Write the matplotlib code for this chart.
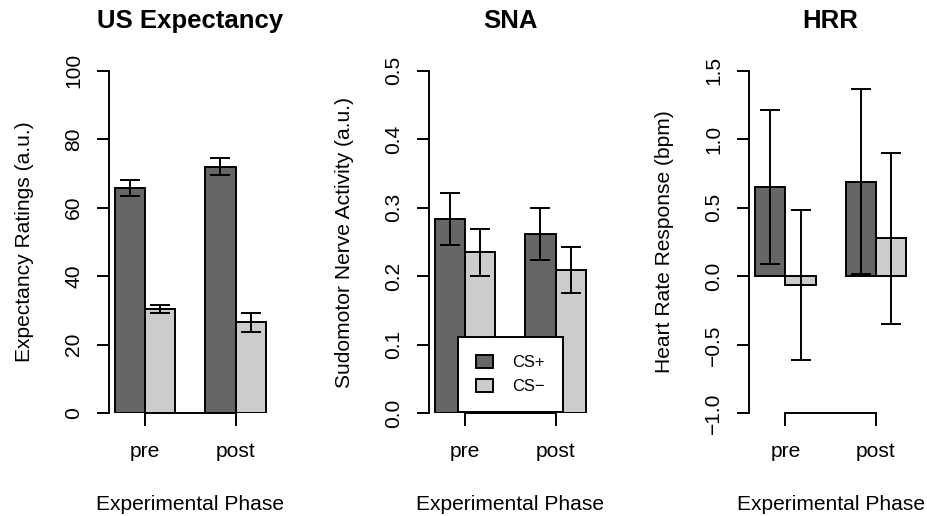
import matplotlib
import matplotlib.pyplot as plt
import numpy as np

matplotlib.use("Agg")

## Data
phases = ["pre", "post"]
conditions = ["CS+", "CS\u2212"]

expectancy_csplus = [65.8, 72.0]
expectancy_csminus = [30.5, 26.6]
expectancy_csplus_err = [2.3, 2.45]
expectancy_csminus_err = [1.15, 2.8]

sna_csplus = [0.284, 0.262]
sna_csminus = [0.235, 0.209]
sna_csplus_err = [0.038, 0.038]
sna_csminus_err = [0.034, 0.033]

hrr_csplus = [0.651, 0.690]
hrr_csminus = [-0.066, 0.277]
hrr_csplus_err = [0.56, 0.675]
hrr_csminus_err = [0.547, 0.625]

titles = ["US Expectancy", "SNA", "HRR"]
ylabels = ["Expectancy Ratings (a.u.)", "Sudomotor Nerve Activity (a.u.)", "Heart Rate Response (bpm)"]
yticks = [[0, 20, 40, 60, 80, 100], [0.0, 0.1, 0.2, 0.3, 0.4, 0.5], [-1.0, -0.5, 0.0, 0.5, 1.0, 1.5]]
xlabel = "Experimental Phase"

## Style
plt.rcParams["font.family"] = ["Liberation Sans", "DejaVu Sans"]
DARK = "#666666"
LIGHT = "#CCCCCC"
LW = 1.4
FS = 15.1

panels = [
    (expectancy_csplus, expectancy_csminus, expectancy_csplus_err, expectancy_csminus_err),
    (sna_csplus, sna_csminus, sna_csplus_err, sna_csminus_err),
    (hrr_csplus, hrr_csminus, hrr_csplus_err, hrr_csminus_err),
]

W, H = 927, 516
lefts_px = [109, 429, 749.3]
top_px, bottom_px = 70.7, 413.3
width_px = 162.7
height_px = bottom_px - top_px

fig = plt.figure(figsize=(W / 100, H / 100), dpi=100)

centers = np.array([2.0, 5.0])

for i, (cp, cm, cp_err, cm_err) in enumerate(panels):
    ax = fig.add_axes([lefts_px[i] / W, (H - bottom_px) / H, width_px / W, height_px / H])
    b1 = ax.bar(centers - 0.5, cp, width=1.0, color=DARK, edgecolor="black", linewidth=LW, label=conditions[0], zorder=2)
    b2 = ax.bar(centers + 0.5, cm, width=1.0, color=LIGHT, edgecolor="black", linewidth=LW, label=conditions[1], zorder=2)
    ax.errorbar(centers - 0.5, cp, yerr=cp_err, fmt="none", ecolor="black", elinewidth=LW, capsize=7.5, capthick=LW, zorder=3)
    ax.errorbar(centers + 0.5, cm, yerr=cm_err, fmt="none", ecolor="black", elinewidth=LW, capsize=7.5, capthick=LW, zorder=3)

    ax.set_xlim(0.8, 6.2)
    ax.set_ylim(yticks[i][0], yticks[i][-1])

    for s in ["top", "right"]:
        ax.spines[s].set_visible(False)
    for s in ["left", "bottom"]:
        ax.spines[s].set_linewidth(LW)
    ax.spines["left"].set_bounds(yticks[i][0], yticks[i][-1])
    ax.spines["bottom"].set_bounds(centers[0], centers[-1])

    ax.set_yticks(yticks[i])
    ax.set_xticks(centers, phases)
    ax.tick_params(axis="both", direction="out", length=9, width=LW, labelsize=FS)
    ax.tick_params(axis="x", pad=12)
    ax.tick_params(axis="y", pad=9.7, labelrotation=90)
    plt.setp(ax.get_yticklabels(), va="center")

    ax.set_title(titles[i], fontsize=18.5, fontweight="bold", pad=30.7)
    ax.set_ylabel(ylabels[i], fontsize=FS, va="baseline")
    ax.yaxis.set_label_coords(-79 / width_px, 0.5)
    ax.set_xlabel(xlabel, fontsize=FS, va="baseline")
    ax.xaxis.set_label_coords(0.5, (bottom_px - 510) / height_px)

    if i == 1:
        leg = ax.legend(handles=[b1, b2], loc="lower left",
                        bbox_to_anchor=((458.3 - lefts_px[i]) / width_px, (bottom_px - 412.3) / height_px),
                        borderaxespad=0, fontsize=11.9, handlelength=1.0, handleheight=0.8,
                        handletextpad=1.15, labelspacing=0.55, borderpad=1.1,
                        fancybox=False, framealpha=1, edgecolor="black")
        leg.get_frame().set_linewidth(LW)

fig.savefig("out.png", dpi=100)
